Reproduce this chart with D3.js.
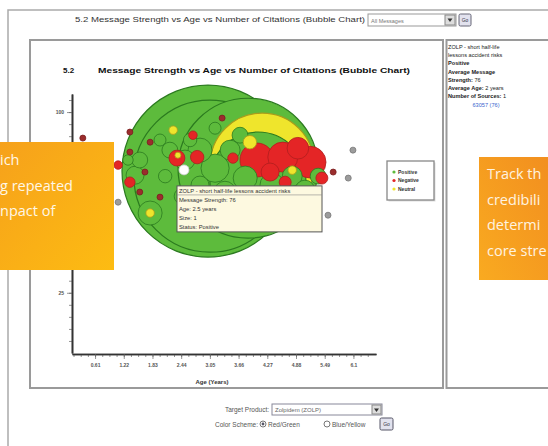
<!DOCTYPE html>
<html>
<head>
<meta charset="utf-8">
<script src="https://cdn.jsdelivr.net/npm/d3@7"></script>
<style>
body { margin: 0; background: #fff; }
svg { display: block; font-family: "Liberation Sans", Arial, sans-serif; }
</style>
</head>
<body>
<script>
// ---- data ----
// one entry per message: age (years), message strength, number of citations, status
var ages      = [3.01, 3.05, 3.86, 4.16, 4.07,
                 1.78, 1.99, 2.20, 1.56, 2.52, 2.84, 3.16, 3.48, 3.80, 2.84, 3.37, 4.37, 4.80, 5.07, 5.35,
                 4.16, 2.10, 2.46, 3.69, 3.16, 1.46, 1.31, 2.63, 4.65, 3.69,
                 1.78, 3.90, 4.80, 2.37, 2.27,
                 4.05, 4.60, 5.18, 4.92, 4.33, 2.35, 2.78, 3.54, 5.43, 4.65, 1.35, 1.10, 2.69,
                 1.35, 0.35, 1.35, 1.78, 1.99, 1.67, 0.61, 0.72, 0.93, 3.31, 1.56, 5.67,
                 6.09, 5.99, 5.56, 1.10,
                 2.50];
var strengths = [75.5, 73.4, 76.7, 78.0, 71.8,
                 58.1, 88.4, 84.2, 80.1, 80.1, 84.2, 76.7, 84.2, 72.6, 69.7, 66.8, 69.7, 73.4, 67.6, 73.4,
                 63.5, 73.4, 65.1, 90.4, 93.3, 73.8, 80.1, 88.4, 63.5, 61.4,
                 58.1, 87.5, 75.9, 82.1, 92.5,
                 80.1, 81.3, 79.2, 85.0, 75.1, 80.9, 81.3, 80.9, 72.6, 70.9, 70.9, 78.0, 90.4,
                 91.7, 89.2, 83.4, 87.5, 64.7, 75.1, 84.2, 75.1, 80.1, 97.5, 66.8, 75.1,
                 84.2, 72.6, 57.2, 62.6,
                 76];
var citations = [822, 642, 544, 300, 256,
                 16, 4, 7, 7, 11, 16, 22, 11, 16, 9, 13, 16, 11, 11, 7,
                 11, 5, 7, 7, 4, 9, 3, 5, 7, 9,
                 2, 5, 2, 1, 2,
                 32, 25, 28, 13, 9, 7, 5, 3, 4, 4, 3, 2, 2,
                 1, 1, 1, 1, 1, 1, 1, 1, 1, 1, 1, 1,
                 1, 1, 1, 1,
                 1];
var statuses  = ["Positive", "Positive", "Positive", "Neutral", "Positive",
                 "Positive", "Positive", "Positive", "Positive", "Positive", "Positive", "Positive", "Positive", "Positive", "Positive", "Positive", "Positive", "Positive", "Positive", "Positive",
                 "Positive", "Positive", "Positive", "Positive", "Positive", "Positive", "Positive", "Positive", "Positive", "Positive",
                 "Neutral", "Neutral", "Neutral", "Neutral", "Neutral",
                 "Negative", "Negative", "Negative", "Negative", "Negative", "Negative", "Negative", "Negative", "Negative", "Negative", "Negative", "Negative", "Negative",
                 "Mixed", "Mixed", "Mixed", "Mixed", "Mixed", "Mixed", "Mixed", "Mixed", "Mixed", "Mixed", "Mixed", "Mixed",
                 "Unrated", "Unrated", "Unrated", "Unrated",
                 "Positive"];
var selectedIndex = 64;   // message under the cursor

var xTickLabels = ["0.61", "1.22", "1.83", "2.44", "3.05", "3.66", "4.27", "4.88", "5.49", "6.1"];
var yTickLabels = ["25", "50", "75", "100"];
var legendItems = ["Positive", "Negative", "Neutral"];

var tipLines  = ["ZOLP - short half-life lessons accident risks", "Message Strength: 76",
                 "Age: 2.5 years", "Size: 1", "Status: Positive"];
var infoLabels = ["", "", "Positive", "Average Message", "Strength:", "Average Age:", "Number of Sources:"];
var infoValues = ["ZOLP - short half-life", "lessons accident risks", "", "", " 76", " 2 years", " 1"];
var infoLink   = "63057 (76)";

var leftPromo  = ["ich", "g repeated", "npact of"];
var rightPromo = ["Track th", "credibili", "determi", "core stre"];

var colour = {Positive: "#5dbb3c", Negative: "#e42526", Neutral: "#efe52c", Mixed: "#9b2d2d", Unrated: "#9c9c9c"};
var edge   = {Positive: "#2b7a1f", Negative: "#b01e1e", Neutral: "#a89c1c", Mixed: "#7a2020", Unrated: "#777"};

var W = 548, H = 446;
var svg = d3.select("body").append("svg").attr("width", W).attr("height", H);

// page frame
svg.append("path").attr("d", "M8," + H + " V10 H" + W)
   .attr("fill", "none").attr("stroke", "#aaa").attr("stroke-width", 1.5);

// report title with message selector
svg.append("text").attr("x", 220).attr("y", 22).attr("text-anchor", "middle")
   .attr("font-size", 7.5).attr("fill", "#333")
   .attr("textLength", 290).attr("lengthAdjust", "spacingAndGlyphs")
   .text("5.2 Message Strength vs Age vs Number of Citations (Bubble Chart)");
svg.append("rect").attr("x", 368).attr("y", 14).attr("width", 88).attr("height", 12)
   .attr("fill", "#fff").attr("stroke", "#999");
svg.append("text").attr("x", 371).attr("y", 22.5).attr("font-size", 5.5).attr("fill", "#777").text("All Messages");
svg.append("rect").attr("x", 445).attr("y", 15).attr("width", 10).attr("height", 10)
   .attr("fill", "#ddd").attr("stroke", "#888");
svg.append("path").attr("d", "M447.5,18.5 L452.5,18.5 L450,22 Z").attr("fill", "#333");
svg.append("rect").attr("x", 459).attr("y", 14).attr("width", 12).attr("height", 12).attr("rx", 1.5)
   .attr("fill", "#e2e2ee").attr("stroke", "#667");
svg.append("text").attr("x", 465).attr("y", 22).attr("text-anchor", "middle").attr("font-size", 5).attr("fill", "#334").text("Go");

// chart panel and info panel
svg.append("rect").attr("x", 30).attr("y", 40).attr("width", 413).attr("height", 348)
   .attr("fill", "#fff").attr("stroke", "#9a9a9a").attr("stroke-width", 2);
svg.append("rect").attr("x", 446.5).attr("y", 40).attr("width", 110).attr("height", 348)
   .attr("fill", "#fff").attr("stroke", "#9a9a9a").attr("stroke-width", 2);

// chart heading
svg.append("text").attr("x", 63).attr("y", 73).attr("font-size", 8).attr("font-weight", "bold").attr("fill", "#111").text("5.2");
svg.append("text").attr("x", 98).attr("y", 73).attr("font-size", 8).attr("font-weight", "bold").attr("fill", "#111")
   .attr("textLength", 312).attr("lengthAdjust", "spacingAndGlyphs")
   .text("Message Strength vs Age vs Number of Citations (Bubble Chart)");

// scales
var x = d3.scaleLinear().domain([0.12, 6.58]).range([72, 376]);
var y = d3.scaleLinear().domain([0, 107.5]).range([353, 94]);
var r = d3.scaleSqrt().domain([0, 900]).range([0, 90]);

// bubbles, biggest first so the small ones stay visible
var bubbles = ages.map(function(a, i) {
  return {age: a, strength: strengths[i], cites: citations[i], status: statuses[i], i: i};
}).filter(function(d) { return d.i !== selectedIndex; });
bubbles.sort(function(a, b) { return b.cites - a.cites; });

var plot = svg.append("g");
plot.selectAll("circle.bubble").data(bubbles).enter().append("circle")
    .attr("class", "bubble")
    .attr("cx", function(d) { return x(d.age); })
    .attr("cy", function(d) { return y(d.strength); })
    .attr("r", function(d) { return r(d.cites); })
    .attr("fill", function(d) { return colour[d.status]; })
    .attr("stroke", function(d) { return edge[d.status]; })
    .attr("stroke-width", function(d) { return d.cites > 100 ? 1.2 : 0.8; });

// highlighted (hovered) message
var sel = {age: ages[selectedIndex], strength: strengths[selectedIndex], cites: citations[selectedIndex]};
plot.append("circle")
    .attr("cx", x(sel.age)).attr("cy", y(sel.strength)).attr("r", r(sel.cites) + 2)
    .attr("fill", "#fff").attr("stroke", "#ccc").attr("stroke-width", 0.8);

// axes
var axisY = svg.append("g").attr("transform", "translate(72,0)");
axisY.call(d3.axisLeft(y).tickValues(d3.range(5, 106, 5)).tickSize(3).tickSizeOuter(0).tickFormat(""));
axisY.append("g").call(d3.axisLeft(y).tickValues(yTickLabels.map(Number)).tickSize(5).tickSizeOuter(0));
axisY.selectAll(".domain").attr("stroke", "#333").attr("stroke-width", 1.6);
axisY.selectAll(".tick line").attr("stroke", "#666").attr("stroke-width", 0.7);
axisY.selectAll(".tick text").attr("font-size", 5).attr("font-weight", "bold").attr("fill", "#555")
     .attr("font-family", "Liberation Sans, Arial, sans-serif");

var step = +xTickLabels[0] / 4;
var axisX = svg.append("g").attr("transform", "translate(0,354)");
axisX.call(d3.axisBottom(x).tickValues(d3.range(1, 43).map(function(k) { return k * step; }))
     .tickSize(3).tickSizeOuter(0).tickFormat(""));
axisX.append("g").call(d3.axisBottom(x).tickValues(xTickLabels.map(Number)).tickSize(5).tickSizeOuter(0)
     .tickFormat(function(d, i) { return xTickLabels[i]; }));
axisX.selectAll(".domain").attr("stroke", "#333").attr("stroke-width", 1.6);
axisX.selectAll(".tick line").attr("stroke", "#666").attr("stroke-width", 0.7);
axisX.selectAll(".tick text").attr("font-size", 5).attr("font-weight", "bold").attr("fill", "#555")
     .attr("font-family", "Liberation Sans, Arial, sans-serif").attr("dy", "0.9em");
svg.append("text").attr("x", 212).attr("y", 384).attr("text-anchor", "middle")
   .attr("font-size", 6).attr("font-weight", "bold").attr("fill", "#333").text("Age (Years)");

// legend
svg.append("rect").attr("x", 388.5).attr("y", 162.5).attr("width", 47).attr("height", 39).attr("fill", "#ddd");
svg.append("rect").attr("x", 387).attr("y", 161).attr("width", 47).attr("height", 39)
   .attr("fill", "#fff").attr("stroke", "#888").attr("stroke-width", 1.3);
var leg = svg.selectAll("g.leg").data(legendItems).enter().append("g").attr("class", "leg")
   .attr("transform", function(d, i) { return "translate(394," + (172 + i * 8.5) + ")"; });
leg.append("circle").attr("r", 1.6).attr("fill", function(d) { return colour[d]; });
leg.append("text").attr("x", 4).attr("y", 1.8).attr("font-size", 5).attr("font-weight", "bold").attr("fill", "#333")
   .text(function(d) { return d; });

// tooltip for hovered message
var tx = x(sel.age) - 7, ty = y(sel.strength) + 16;
svg.append("rect").attr("x", tx).attr("y", ty).attr("width", 145).attr("height", 46)
   .attr("fill", "#fdf9e0").attr("stroke", "#555").attr("stroke-width", 1);
svg.append("line").attr("x1", tx).attr("x2", tx + 145).attr("y1", ty + 9).attr("y2", ty + 9)
   .attr("stroke", "#888").attr("stroke-width", 0.6);
svg.selectAll("text.tip").data(tipLines).enter().append("text").attr("class", "tip")
   .attr("x", tx + 2).attr("y", function(d, i) { return ty + 7 + i * 9; })
   .attr("font-size", 5.8).attr("fill", "#333").text(function(d) { return d; });

// info panel
var info = svg.selectAll("text.info").data(infoLabels).enter().append("text").attr("class", "info")
   .attr("x", 448).attr("y", function(d, i) { return 49 + i * 8.2; })
   .attr("font-size", 5.6).attr("fill", "#222");
info.append("tspan").attr("font-weight", "bold").text(function(d) { return d; });
info.append("tspan").text(function(d, i) { return infoValues[i]; });
svg.append("text").attr("x", 486).attr("y", 49 + 7 * 8.2 + 1).attr("text-anchor", "middle")
   .attr("font-size", 5.6).attr("fill", "#3a5fcd").text(infoLink);

// controls under the chart
svg.append("text").attr("x", 269).attr("y", 412).attr("text-anchor", "end").attr("font-size", 6.5).attr("fill", "#555").text("Target Product:");
svg.append("rect").attr("x", 272).attr("y", 404).attr("width", 110).attr("height", 11).attr("fill", "#fff").attr("stroke", "#889");
svg.append("text").attr("x", 275).attr("y", 412).attr("font-size", 6).attr("fill", "#666").text("Zolpidem (ZOLP)");
svg.append("rect").attr("x", 372).attr("y", 405).attr("width", 9).attr("height", 9).attr("fill", "#ddd").attr("stroke", "#888");
svg.append("path").attr("d", "M374,408.5 L379,408.5 L376.5,412 Z").attr("fill", "#333");
svg.append("text").attr("x", 258).attr("y", 426.5).attr("text-anchor", "end").attr("font-size", 6.5).attr("fill", "#555").text("Color Scheme:");
svg.append("circle").attr("cx", 263).attr("cy", 424).attr("r", 3).attr("fill", "#fff").attr("stroke", "#777");
svg.append("circle").attr("cx", 263).attr("cy", 424).attr("r", 1.4).attr("fill", "#556");
svg.append("text").attr("x", 268).attr("y", 426.5).attr("font-size", 6.5).attr("fill", "#555").text("Red/Green");
svg.append("circle").attr("cx", 327).attr("cy", 424).attr("r", 3).attr("fill", "#fff").attr("stroke", "#777");
svg.append("text").attr("x", 332).attr("y", 426.5).attr("font-size", 6.5).attr("fill", "#555").text("Blue/Yellow");
svg.append("rect").attr("x", 380).attr("y", 418).attr("width", 13).attr("height", 12).attr("rx", 1.5)
   .attr("fill", "#e2e2ee").attr("stroke", "#556");
svg.append("text").attr("x", 386.5).attr("y", 426).attr("text-anchor", "middle").attr("font-size", 5).attr("fill", "#334").text("Go");

// brochure callouts laid over the screenshot
var defs = svg.append("defs");
var g1 = defs.append("linearGradient").attr("id", "promoL").attr("x1", 0).attr("y1", 0).attr("x2", 1).attr("y2", 1);
g1.append("stop").attr("offset", 0).attr("stop-color", "#f6a11b");
g1.append("stop").attr("offset", 1).attr("stop-color", "#fdbc12");
var g2 = defs.append("linearGradient").attr("id", "promoR").attr("x1", 1).attr("y1", 0).attr("x2", 0).attr("y2", 1);
g2.append("stop").attr("offset", 0).attr("stop-color", "#f28f1f");
g2.append("stop").attr("offset", 1).attr("stop-color", "#f9aa20");

svg.append("rect").attr("x", 0).attr("y", 142).attr("width", 114).attr("height", 128).attr("fill", "url(#promoL)");
svg.selectAll("text.pl").data(leftPromo).enter().append("text").attr("class", "pl")
   .attr("x", 0).attr("y", function(d, i) { return 165 + i * 25.5; })
   .attr("font-family", "Open Sans, sans-serif").attr("font-size", 14.5).attr("fill", "#fff7e6")
   .text(function(d) { return d; });

svg.append("rect").attr("x", 479).attr("y", 157).attr("width", 69).attr("height", 123).attr("fill", "url(#promoR)");
svg.selectAll("text.pr").data(rightPromo).enter().append("text").attr("class", "pr")
   .attr("x", 487).attr("y", function(d, i) { return 179 + i * 25.5; })
   .attr("font-family", "Open Sans, sans-serif").attr("font-size", 14.5).attr("fill", "#fff3e0")
   .text(function(d) { return d; });
</script>
</body>
</html>
